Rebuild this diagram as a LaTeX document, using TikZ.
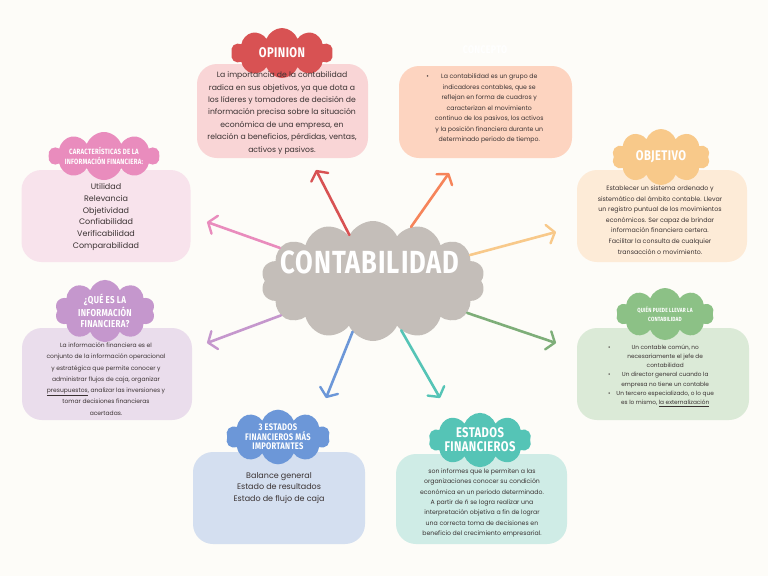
\documentclass[tikz,border=0pt]{standalone}
\usepackage{fontspec}
\usepackage{tikz}
\usetikzlibrary{arrows.meta,positioning,shapes.symbols}
\newfontfamily\bodyfont{Poppins}
\newfontfamily\titlefont{Fira Sans}[FakeStretch=0.8,LetterSpace=3]
\definecolor{bgcream}{HTML}{FDFCF8}
\definecolor{inkdark}{HTML}{3A3232}
\definecolor{hubgray}{HTML}{C4BEB9}
\definecolor{opred}{HTML}{D85253}
\definecolor{opbg}{HTML}{F9D5D6}
\definecolor{coorange}{HTML}{F6845A}
\definecolor{cobg}{HTML}{FDD4C0}
\definecolor{obyellow}{HTML}{F8C98A}
\definecolor{obbg}{HTML}{FDEBD7}
\definecolor{qugreen}{HTML}{8CC186}
\definecolor{qubg}{HTML}{DBEAD7}
\definecolor{efteal}{HTML}{55C4B6}
\definecolor{efbg}{HTML}{CFECE6}
\definecolor{esblue}{HTML}{6C97D8}
\definecolor{esbg}{HTML}{D4DFF0}
\definecolor{ifpurple}{HTML}{C597CD}
\definecolor{ifbg}{HTML}{EADDEC}
\definecolor{capink}{HTML}{E98CBD}
\definecolor{cabg}{HTML}{F8E3EC}

\begin{document}
\begin{tikzpicture}[
    x=1pt, y=-1pt,
    box/.style={rounded corners=20pt, inner sep=0pt, outer sep=0pt},
    puff/.style={cloud, cloud puffs=10, cloud puff arc=140, cloud ignores aspect,
                 inner sep=0pt, outer sep=0pt, text=white, align=center},
    body/.style={align=center, text=inkdark, inner sep=0pt},
    flow/.style={line width=2.6pt, line cap=round,
                 -{Straight Barb[round, length=7pt, width=19pt, line width=2.4pt]}}]
  \useasboundingbox (0,0) rectangle (768,576);
  \fill[bgcream] (0,0) rectangle (768,576);
  % boxes
  \node[box, fill=opbg, minimum width=171pt, minimum height=94pt] (opbox) at (282.5,111) {};
  \node[box, fill=cobg, minimum width=173pt, minimum height=92pt] (cobox) at (485.5,112) {};
  \node[box, fill=cabg, minimum width=169pt, minimum height=92pt] (cabox) at (106,216) {};
  \node[box, fill=ifbg, minimum width=170pt, minimum height=92pt] (ifbox) at (107,374) {};
  \node[box, fill=obbg, minimum width=170pt, minimum height=92pt] (obbox) at (662,216) {};
  \node[box, fill=qubg, minimum width=172pt, minimum height=92pt] (qubox) at (663,374) {};
  \node[box, fill=esbg, minimum width=172pt, minimum height=92pt] (esbox) at (279,498) {};
  \node[box, fill=efbg, minimum width=171pt, minimum height=90pt] (efbox) at (481.5,499) {};
  % title clouds
  \node[puff, fill=opred, minimum width=102pt, minimum height=50pt,
        font=\titlefont\bfseries\fontsize{14}{14}\selectfont] (optitle) at (282,53) {OPINION};
  \node[text=white, font=\titlefont\bfseries\fontsize{11}{11}\selectfont] (cotitle) at (485,50) {CONCEPTO};
  \node[puff, fill=capink, minimum width=106pt, minimum height=48pt,
        font=\titlefont\bfseries\fontsize{7.6}{10}\selectfont] (catitle) at (104,156) {CARACTERÍSTICAS DE LA\\INFORMACIÓN FINANCIERA:};
  \node[puff, fill=ifpurple, minimum width=100pt, minimum height=50pt,
        font=\titlefont\bfseries\fontsize{10}{11.5}\selectfont] (iftitle) at (105,311) {¿QUÉ ES LA\\INFORMACIÓN\\FINANCIERA?};
  \node[puff, fill=obyellow, minimum width=98pt, minimum height=56pt,
        font=\titlefont\bfseries\fontsize{14}{14}\selectfont] (obtitle) at (661,157) {OBJETIVO};
  \node[puff, fill=qugreen, minimum width=98pt, minimum height=52pt,
        font=\titlefont\bfseries\fontsize{6}{9.5}\selectfont] (qutitle) at (665,314) {QUIÉN PUEDE LLEVAR LA\\CONTABILIDAD};
  \node[puff, fill=esblue, minimum width=104pt, minimum height=54pt,
        font=\titlefont\bfseries\fontsize{9.5}{9.4}\selectfont] (estitle) at (278,437) {3 ESTADOS\\FINANCIEROS MÁS\\IMPORTANTES};
  \node[puff, fill=efteal, minimum width=102pt, minimum height=52pt,
        font=\titlefont\bfseries\fontsize{14}{14}\selectfont] (eftitle) at (480,440) {ESTADOS\\FINANCIEROS};
  % texts
  \node[body, font=\bodyfont\fontsize{7.7}{12.4}\selectfont] (optext) at (282,113)
    {La importancia de la contabilidad\\radica en sus objetivos, ya que dota a\\los líderes y tomadores de decisión de\\información precisa sobre la situación\\económica de una empresa, en\\relación a beneficios, pérdidas, ventas,\\activos y pasivos.};
  \node[body, font=\bodyfont\fontsize{6.2}{10.5}\selectfont] (cotext) at (485,108)
    {\begin{tabular}{@{}l@{\hspace{6pt}}c@{}}
     \textbullet & La contabilidad es un grupo de\\
      & indicadores contables, que se\\
      & reflejan en forma de cuadros y\\
      & caracterizan el movimiento\\
      & continuo de los pasivos, los activos\\
      & y la posición financiera durante un\\
      & determinado periodo de tiempo.
     \end{tabular}};
  \node[body, font=\bodyfont\fontsize{8}{11.7}\selectfont] (catext) at (106,217)
    {Utilidad\\Relevancia\\Objetividad\\Confiabilidad\\Verificabilidad\\Comparabilidad};
  \node[body, font=\bodyfont\fontsize{6}{11.3}\selectfont] (iftext) at (106,379)
    {La información financiera es el\\conjunto de la información operacional\\y estratégica que permite conocer y\\administrar flujos de caja, organizar\\\underline{presupuestos}, analizar las inversiones y\\tomar decisiones financieras\\acertadas.};
  \node[body, font=\bodyfont\fontsize{6.3}{10.6}\selectfont] (obtext) at (660,220)
    {Establecer un sistema ordenado y\\sistemático del ámbito contable. Llevar\\un registro puntual de los movimientos\\económicos. Ser capaz de brindar\\información financiera certera.\\Facilitar la consulta de cualquier\\transacción o movimiento.};
  \node[body, font=\bodyfont\fontsize{5.8}{9.2}\selectfont] (qutext) at (661,375)
    {\begin{tabular}{@{}l@{\hspace{6pt}}c@{}}
     \textbullet & Un contable común, no\\
      & necesariamente el jefe de\\
      & contabilidad\\
     \textbullet & Un director general cuando la\\
      & empresa no tiene un contable\\
     \textbullet & Un tercero especializado, o lo que\\
      & es lo mismo, \underline{la externalización}
     \end{tabular}};
  \node[body, font=\bodyfont\fontsize{8}{11.7}\selectfont] (estext) at (279,488)
    {Balance general\\Estado de resultados\\Estado de flujo de caja};
  \node[body, font=\bodyfont\fontsize{6.2}{10.4}\selectfont] (eftext) at (482,503)
    {son informes que le permiten a las\\organizaciones conocer su condición\\económica en un periodo determinado.\\A partir de ñ se logra realizar una\\interpretación objetiva a fin de lograr\\una correcta toma de decisiones en\\beneficio del crecimiento empresarial.};
  % hub and arrows
  \node[cloud, cloud puffs=14, cloud puff arc=130, cloud ignores aspect, fill=hubgray,
        minimum width=224pt, minimum height=120pt, inner sep=0pt] (hub) at (373,281) {};
  \node[text=white, font=\titlefont\bfseries\fontsize{32}{32}\selectfont] (hubtitle) at (370,262) {CONTABILIDAD};
  \coordinate (tipop) at (316,170);
  \coordinate (tipco) at (449,173);
  \coordinate (tipob) at (556,232);
  \coordinate (tipqu) at (556,343);
  \coordinate (tipef) at (440,398);
  \coordinate (tipes) at (326,398);
  \coordinate (tipif) at (207,343);
  \coordinate (tipca) at (207,222);
  \draw[flow, draw=opred] (hub) -- (tipop);
  \draw[flow, draw=coorange] (hub) -- (tipco);
  \draw[flow, draw=obyellow] (hub) -- (tipob);
  \draw[flow, draw=qugreen!90!black] (hub) -- (tipqu);
  \draw[flow, draw=efteal] (hub) -- (tipef);
  \draw[flow, draw=esblue] (hub) -- (tipes);
  \draw[flow, draw=ifpurple] (hub) -- (tipif);
  \draw[flow, draw=capink] (hub) -- (tipca);
\end{tikzpicture}
\end{document}
